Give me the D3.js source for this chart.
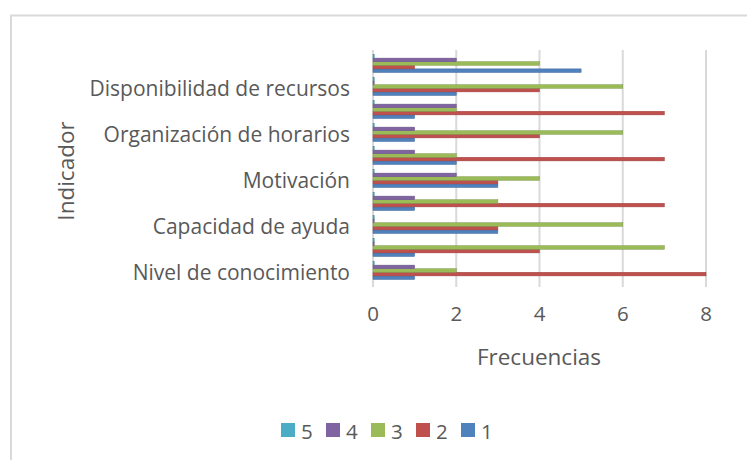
<!DOCTYPE html>
<html>
<head>
<meta charset="utf-8">
<script src="https://cdn.jsdelivr.net/npm/d3@7"></script>
<style>
  body { margin: 0; background: #fff; }
  text { font-family: "Open Sans", sans-serif; fill: #595959; }
</style>
</head>
<body>
<div id="chart"></div>
<script>
// categories from bottom to top; Excel only printed every other label
var categories = ["Nivel de conocimiento", "", "Capacidad de ayuda", "", "Motivación",
                  "", "Organización de horarios", "", "Disponibilidad de recursos", ""];
var seriesNames = ["1", "2", "3", "4", "5"];
var serie1 = [1, 1, 3, 1, 3, 2, 1, 1, 2, 5];
var serie2 = [8, 4, 3, 7, 3, 7, 4, 7, 4, 1];
var serie3 = [2, 7, 6, 3, 4, 2, 6, 2, 6, 4];
var serie4 = [1, 0, 0, 1, 2, 1, 1, 2, 0, 2];
var serie5 = [0, 0, 0, 0, 0, 0, 0, 0, 0, 0];
var xTicks = [0, 2, 4, 6, 8];
var colors = ["#4F81BD", "#C0504D", "#9BBB59", "#8064A2", "#4BACC6"];

var allSeries = [serie1, serie2, serie3, serie4, serie5];

var width = 747, height = 460;
var svg = d3.select("#chart").append("svg")
    .attr("width", width)
    .attr("height", height);

// chart frame (only top and left edges are visible in the crop)
svg.append("path")
    .attr("d", "M11,460 V15.5 H747")
    .attr("fill", "none")
    .attr("stroke", "#d9d9d9")
    .attr("stroke-width", 2);

var x = d3.scaleLinear().domain([0, 8]).range([373, 706]);

var idx = d3.range(categories.length);
var y = d3.scaleBand()
    .domain(idx.slice().reverse())
    .range([52, 282])
    .paddingInner(0.22)
    .paddingOuter(0.11);

var yInner = d3.scaleBand()
    .domain(d3.range(seriesNames.length).reverse())
    .range([0, y.bandwidth()]);

// gridlines
svg.append("g").selectAll("line")
    .data(xTicks)
    .enter().append("line")
    .attr("x1", d => x(d)).attr("x2", d => x(d))
    .attr("y1", 50).attr("y2", 287)
    .attr("stroke", "#d9d9d9")
    .attr("stroke-width", 2);

// bars
var groups = svg.append("g").selectAll("g")
    .data(idx)
    .enter().append("g")
    .attr("transform", i => "translate(0," + y(i) + ")");

groups.selectAll("rect")
    .data(i => allSeries.map((s, k) => ({ k: k, v: s[i] })))
    .enter().append("rect")
    .attr("x", x(0))
    .attr("y", d => yInner(d.k))
    .attr("width", d => Math.max(1.2, x(d.v) - x(0)))
    .attr("height", yInner.bandwidth())
    .attr("fill", d => colors[d.k])
    .attr("stroke", d => d3.color(colors[d.k]).darker(0.6))
    .attr("stroke-width", 0.5);

// category labels
svg.append("g").selectAll("text")
    .data(idx.filter(i => categories[i] !== ""))
    .enter().append("text")
    .attr("x", 350)
    .attr("y", i => y(i) + y.bandwidth() / 2 + 1)
    .attr("text-anchor", "end")
    .attr("dominant-baseline", "central")
    .style("font-size", "21px")
    .text(i => categories[i]);

// x tick labels
svg.append("g").selectAll("text")
    .data(xTicks)
    .enter().append("text")
    .attr("x", d => x(d))
    .attr("y", 321)
    .attr("text-anchor", "middle")
    .style("font-size", "20.5px")
    .text(d => d);

// axis titles
svg.append("text")
    .attr("x", 539)
    .attr("y", 365)
    .attr("text-anchor", "middle")
    .style("font-size", "22.5px")
    .text("Frecuencias");

svg.append("text")
    .attr("transform", "translate(74,171) rotate(-90)")
    .attr("text-anchor", "middle")
    .style("font-size", "22.5px")
    .text("Indicador");

// legend, drawn in reverse order like Excel does for bar charts
var legendOrder = d3.range(seriesNames.length).reverse();
var legend = svg.append("g").selectAll("g")
    .data(legendOrder)
    .enter().append("g")
    .attr("transform", (k, j) => "translate(" + (281 + j * 45) + ",423)");

legend.append("rect")
    .attr("width", 14).attr("height", 14)
    .attr("fill", k => colors[k]);

legend.append("text")
    .attr("x", 20)
    .attr("y", 7.5)
    .attr("dominant-baseline", "central")
    .style("font-size", "20.5px")
    .text(k => seriesNames[k]);
</script>
</body>
</html>
